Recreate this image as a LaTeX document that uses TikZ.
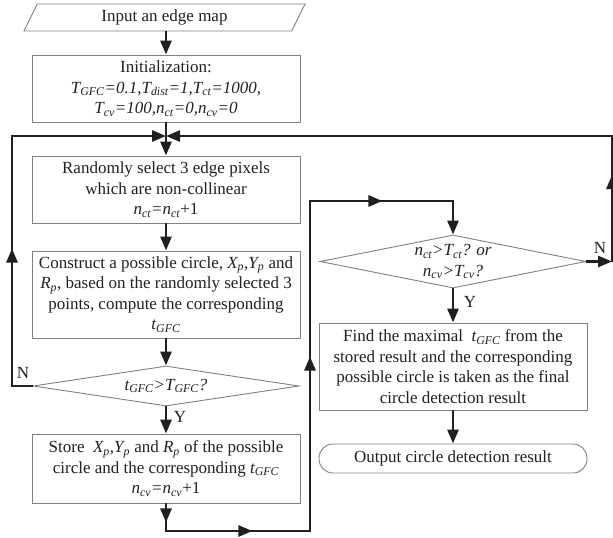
\documentclass[tikz,border=0pt]{standalone}
\usepackage{fontspec}
\setmainfont{Liberation Serif}
\usetikzlibrary{arrows.meta,shapes.geometric,decorations.markings}
\definecolor{boxgray}{HTML}{808080}
\definecolor{linec}{HTML}{231F20}
\newcommand{\sbs}[1]{\textsubscript{#1}}
\begin{document}
\begin{tikzpicture}[x=1pt,y=-1pt,
  every node/.style={font=\fontsize{17}{20.5}\selectfont, text=linec},
  box/.style={draw=boxgray, line width=0.9pt, rectangle, minimum width=268pt, inner sep=0pt, align=center},
  dia/.style={diamond, draw=boxgray, line width=0.9pt, minimum width=266pt, aspect=6, align=center},
  tipa/.tip={Triangle[length=14pt,width=11pt]},
  conn/.style={draw=linec, line width=2.8pt, line join=miter},
  midarr/.style={postaction={decorate}, decoration={markings, mark=at position #1 with {\arrow{tipa}}}},
]
\useasboundingbox (0,0) rectangle (613,538);
% nodes
\node[trapezium, trapezium left angle=63.4, trapezium right angle=116.6, trapezium stretches body,
      draw=boxgray, line width=0.9pt, minimum width=281pt, minimum height=27pt, inner ysep=5.5pt] (input) at (164.5,17.5) {Input an edge map};
\node[box, minimum height=67pt] (init) at (166,88.5) {Initialization:\\
  {\itshape T\sbs{GFC}=0.1,T\sbs{dist}=1,T\sbs{ct}=1000,}\\
  {\itshape T\sbs{cv}=100,n\sbs{ct}=0,n\sbs{cv}=0}};
\node[box, minimum height=67pt] (select) at (166,189.5) {Randomly select 3 edge pixels\\
  which are non-collinear\\
  {\itshape n\sbs{ct}=n\sbs{ct}}+1};
\node[box, minimum height=87pt] (construct) at (166,294.5) {Construct a possible circle, {\itshape X\sbs{p}},{\itshape Y\sbs{p}} and\\
  {\itshape R\sbs{p}}, based on the randomly selected 3\\
  points, compute the corresponding\\
  {\itshape t\sbs{GFC}}};
\node[dia, minimum height=40pt, inner sep=-4pt] (dia1) at (166,386) {\itshape t\sbs{GFC}>T\sbs{GFC}?};
\node[box, minimum height=69pt] (store) at (166,468.5) {Store\ \ {\itshape X\sbs{p}},{\itshape Y\sbs{p}} and {\itshape R\sbs{p}} of the possible\\
  circle and the corresponding {\itshape t\sbs{GFC}}\\
  {\itshape n\sbs{cv}=n\sbs{cv}}+1};
\node[dia, minimum height=53pt, inner sep=-9pt] (dia2) at (453,261.5) {{\itshape n\sbs{ct}>T\sbs{ct}? or}\\{\itshape n\sbs{cv}>T\sbs{cv}?}};
\node[box, minimum height=87pt] (find) at (453,366.5) {Find the maximal\ \ {\itshape t\sbs{GFC}} from the\\
  stored result and the corresponding\\
  possible circle is taken as the final\\
  circle detection result};
\node[box, rounded corners=14pt, minimum height=29pt] (out) at (453,458.5) {Output circle detection result};
% labels
\node (n1) at (23,373) {N};
\node (y1) at (180,417) {Y};
\node (n2) at (600,248) {N};
\node (y2) at (470,302) {Y};
% bend points
\coordinate (J) at (166,136);
\coordinate (L1) at (12,386);
\coordinate (L2) at (12,136);
\coordinate (R1) at (612,261.5);
\coordinate (R2) at (612,136);
\coordinate (B1) at (166,531);
\coordinate (B2) at (310,531);
\coordinate (B3) at (310,201);
\coordinate (B4) at (453,201);
% connectors
\draw[conn,-tipa] (input.south -| init.north) -- (init.north);
\draw[conn,-tipa] (init.south) -- (select.north);
\draw[conn,-tipa] (select) -- (construct);
\draw[conn,-tipa] (construct) -- (dia1);
\draw[conn,-tipa] (dia1) -- (store);
\draw[conn,-tipa,midarr=158pt] (dia1.west) -- (L1) -- (L2) -- (J);
\draw[conn,-tipa] (dia2.east) -- (R1);
\draw[conn,-tipa,midarr=86.5pt] (R1) -- (R2) -- (J);
\draw[conn,-tipa,postaction={decorate},
  decoration={markings,
    mark=at position 19pt with {\arrow{tipa}},
    mark=at position 114pt with {\arrow{tipa}},
    mark=at position 346pt with {\arrow{tipa}},
    mark=at position 574pt with {\arrow{tipa}}}]
  (store.south) -- (B1) -- (B2) -- (B3) -- (B4) -- (dia2.north);
\draw[conn,-tipa] (dia2) -- (find);
\draw[conn,-tipa] (find) -- (out);
\end{tikzpicture}
\end{document}
